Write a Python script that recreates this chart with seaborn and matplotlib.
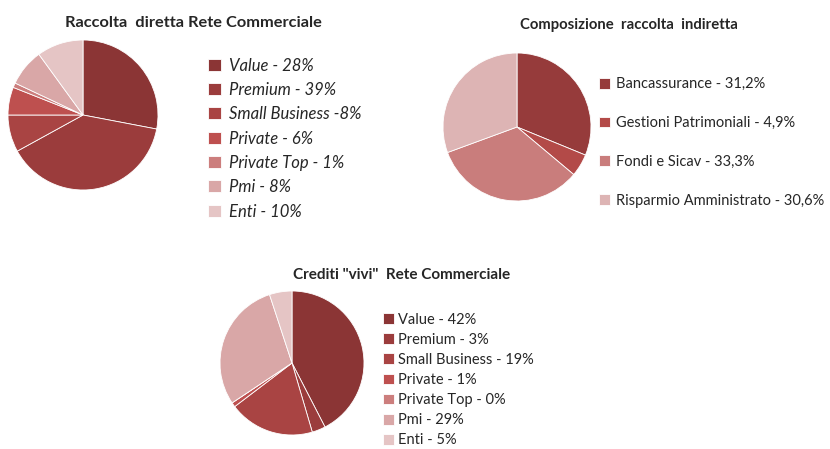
import matplotlib
matplotlib.use("Agg")
import matplotlib.pyplot as plt
import seaborn as sns

sns.set_theme(style="white")
plt.rcParams['font.family'] = ['Lato', 'DejaVu Sans']

W, H = 830, 449

# Raccolta diretta Rete Commerciale
diretta_labels = ["Value - 28%", "Premium - 39%", "Small Business -8%", "Private - 6%",
                  "Private Top - 1%", "Pmi - 8%", "Enti - 10%"]
diretta_values = [28, 39, 8, 6, 1, 8, 10]

# Composizione raccolta indiretta
indiretta_labels = ["Bancassurance - 31,2%", "Gestioni Patrimoniali - 4,9%",
                    "Fondi e Sicav - 33,3%", "Risparmio Amministrato - 30,6%"]
indiretta_values = [31.2, 4.9, 33.3, 30.6]

# Crediti "vivi" Rete Commerciale
crediti_labels = ["Value - 42%", "Premium - 3%", "Small Business - 19%", "Private - 1%",
                  "Private Top - 0%", "Pmi - 29%", "Enti - 5%"]
crediti_values = [42, 3, 19, 1, 0, 29, 5]

seg_colors = ["#8B3535", "#9B3C3C", "#A94443", "#BE504F", "#CC7E7D", "#D9A7A7", "#E5C5C5"]
ind_colors = ["#963B3B", "#B34A48", "#C97D7C", "#DDB4B4"]

fig = plt.figure(figsize=(W / 100, H / 100), dpi=100)


def pie_axes(cx, cy, r):
    ax = fig.add_axes([(cx - r) / W, 1 - (cy + r) / H, 2 * r / W, 2 * r / H])
    return ax


def draw_pie(ax, values, colors):
    wedges, _ = ax.pie(values, colors=colors, startangle=90, counterclock=False,
                       wedgeprops=dict(edgecolor="white", linewidth=0.6))
    ax.set_xlim(-1, 1)
    ax.set_ylim(-1, 1)
    return wedges


ax1 = pie_axes(83, 115, 75)
w1 = draw_pie(ax1, diretta_values, seg_colors)
fig.text(193.5 / W, 1 - 23 / H, "Raccolta  diretta Rete Commerciale", ha="center", va="center",
         fontsize=11.8, fontweight="bold")
fig.legend(w1, diretta_labels, loc="center left", bbox_to_anchor=(208 / W, 1 - 138.5 / H),
           frameon=False, borderpad=0, borderaxespad=0, handlelength=0.75, handleheight=0.75,
           handletextpad=0.5, labelspacing=0.5, prop=dict(size=12, style="italic"))

ax2 = pie_axes(517, 127, 74)
w2 = draw_pie(ax2, indiretta_values, ind_colors)
fig.text(628.5 / W, 1 - 25 / H, "Composizione  raccolta  indiretta", ha="center", va="center",
         fontsize=10.7, fontweight="bold")
fig.legend(w2, indiretta_labels, loc="center left", bbox_to_anchor=(599 / W, 1 - 142.5 / H),
           frameon=False, borderpad=0, borderaxespad=0, handlelength=0.75, handleheight=0.75,
           handletextpad=0.4, labelspacing=1.7, prop=dict(size=10.5))

ax3 = pie_axes(292, 363, 72)
w3 = draw_pie(ax3, crediti_values, seg_colors)
fig.text(402 / W, 1 - 275 / H, "Crediti \"vivi\"  Rete Commerciale", ha="center", va="center",
         fontsize=11, fontweight="bold")
fig.legend(w3, crediti_labels, loc="center left", bbox_to_anchor=(383 / W, 1 - 380 / H),
           frameon=False, borderpad=0, borderaxespad=0, handlelength=0.75, handleheight=0.75,
           handletextpad=0.3, labelspacing=0.42, prop=dict(size=10.5))

fig.savefig("out.png", dpi=100, facecolor="white")
